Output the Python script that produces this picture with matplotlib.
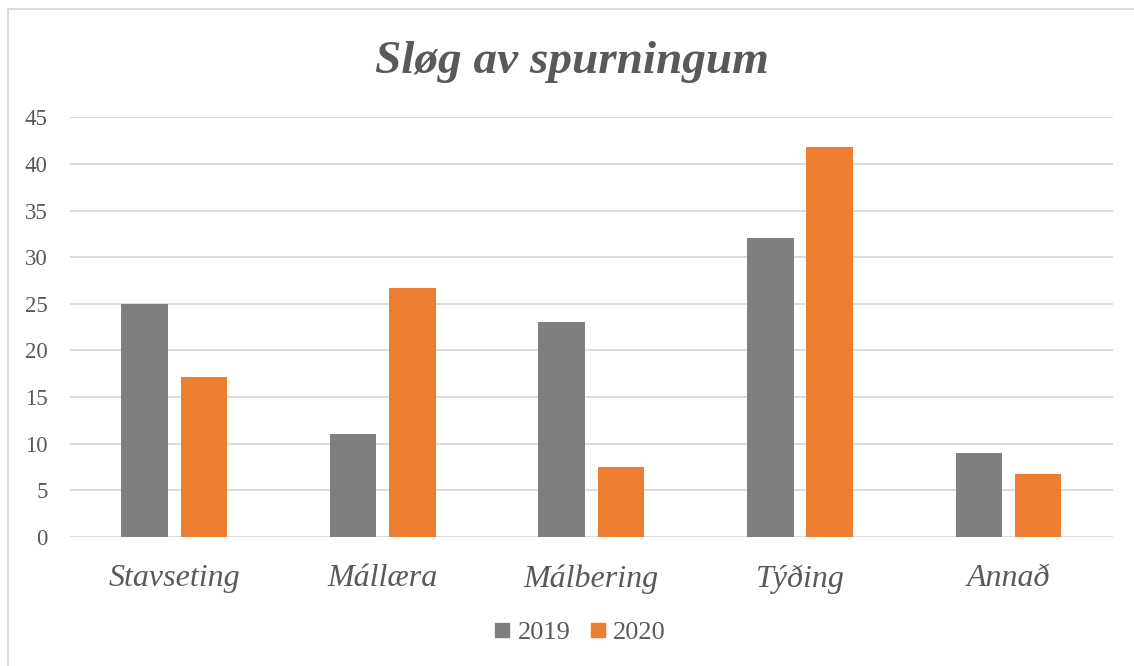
import matplotlib.pyplot as plt
import numpy as np
from matplotlib.lines import Line2D

plt.rcParams['font.family'] = ['Liberation Serif', 'DejaVu Serif']

categories = ['Stavseting', 'Mállæra', 'Málbering', 'Týðing', 'Annað']
years = ['2019', '2020']
v2019 = [25, 11, 23, 32, 9]
v2020 = [17.1, 26.7, 7.5, 41.8, 6.7]
colors = ['#7F7F7F', '#ED7D31']
text_col = '#595959'

W, H = 1134, 666
fig = plt.figure(figsize=(W / 100, H / 100), dpi=100)
ax = fig.add_axes([70 / W, 1 - 536.7 / H, (1112.7 - 70) / W, (536.7 - 117.3) / H])

x = np.arange(len(categories))
w = 0.223
off = w / 2 + 0.0305
ax.bar(x - off, v2019, w, color=colors[0], label=years[0], zorder=3)
ax.bar(x + off, v2020, w, color=colors[1], label=years[1], zorder=3)

ax.set_xlim(-0.5, len(categories) - 0.5)
ax.set_ylim(0, 45)
ax.set_yticks(range(0, 46, 5))
ax.grid(axis='y', color='#D9D9D9', linewidth=1.3, zorder=0)
for s in ax.spines.values():
    s.set_visible(False)
ax.tick_params(axis='both', length=0)
ax.tick_params(axis='y', labelsize=16.5, labelcolor=text_col, pad=16)
ax.set_xticks(x)
ax.set_xticklabels(categories, fontsize=23, style='italic', color=text_col)
ax.tick_params(axis='x', pad=20)

fig.text(572 / W, 1 - 73 / H, 'Sløg av spurningum', fontsize=34, fontweight='bold',
         style='italic', color=text_col, ha='center', va='baseline')

handles = [Line2D([], [], marker='s', linestyle='none', markersize=9.5, color=c) for c in colors]
fig.legend(handles, years, loc='center', bbox_to_anchor=(579 / W, 1 - 632 / H),
           ncol=2, frameon=False, fontsize=19, labelcolor=text_col,
           handletextpad=0.2, columnspacing=0.6, handlelength=0.8)

# chart border (top and left visible)
fig.add_artist(Line2D([7.7 / W, 1], [1 - 9.3 / H, 1 - 9.3 / H], color='#D9D9D9', linewidth=1.3))
fig.add_artist(Line2D([7.7 / W, 7.7 / W], [0, 1 - 9.3 / H], color='#D9D9D9', linewidth=1.3))

fig.savefig('out.png', dpi=100)
